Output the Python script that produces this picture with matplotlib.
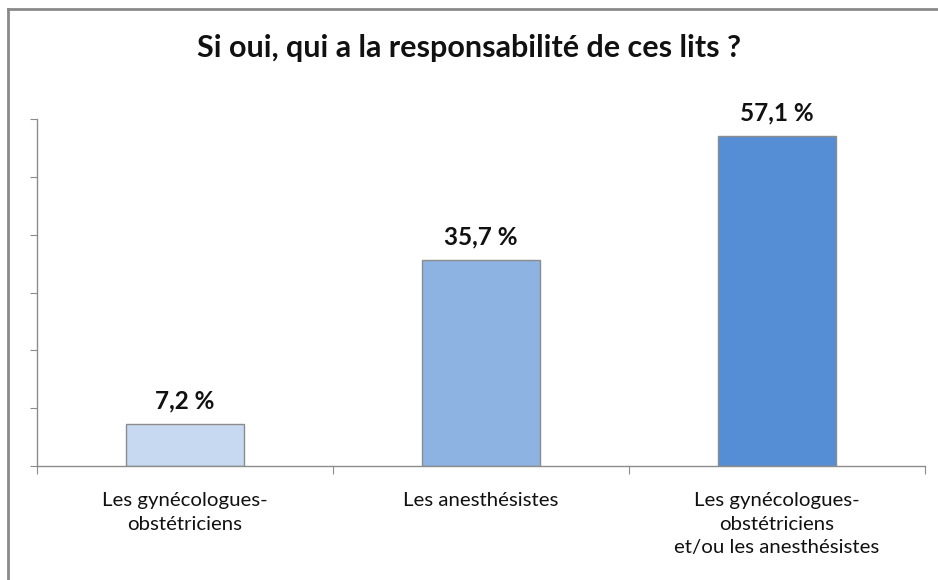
import matplotlib
matplotlib.use("Agg")
import matplotlib.pyplot as plt
from matplotlib.lines import Line2D

categories = ["Les gynécologues-\nobstétriciens", "Les anesthésistes",
              "Les gynécologues-\nobstétriciens\net/ou les anesthésistes"]
values = [7.2, 35.7, 57.1]
value_labels = ["7,2 %", "35,7 %", "57,1 %"]
colors = ["#c6d9f1", "#8db3e2", "#558ed5"]
title = "Si oui, qui a la responsabilité de ces lits ?"

plt.rcParams['font.family'] = ['Lato', 'DejaVu Sans']

W, H = 938, 580
fig = plt.figure(figsize=(W / 100, H / 100), dpi=100)
fig.patch.set_facecolor("white")

# outer frame (left and top visible)
fig.add_artist(Line2D([8 / W, 8 / W], [0, 1 - 9 / H], transform=fig.transFigure,
                      color="#8a8a8a", lw=2))
fig.add_artist(Line2D([8 / W, 1], [1 - 9 / H, 1 - 9 / H], transform=fig.transFigure,
                      color="#8a8a8a", lw=2))

ax_left, ax_right, ax_top, ax_bottom = 37, 925, 119, 466
ax = fig.add_axes([ax_left / W, 1 - ax_bottom / H, (ax_right - ax_left) / W,
                   (ax_bottom - ax_top) / H])

x = range(len(values))
ax.bar(x, values, width=0.4, color=colors, edgecolor="#8c8c8c", linewidth=1, zorder=2)
ax.set_xlim(-0.5, len(values) - 0.5)
ax.set_ylim(0, 60)

for xi, v, lab in zip(x, values, value_labels):
    ax.text(xi, v + 2.0, lab, ha="center", va="bottom", fontsize=17.5,
            fontweight="bold", color="#111111")

for s in ["top", "right"]:
    ax.spines[s].set_visible(False)
for s in ["left", "bottom"]:
    ax.spines[s].set_color("#8c8c8c")
    ax.spines[s].set_linewidth(1)

ax.set_yticks(range(0, 61, 10))
ax.set_yticklabels([])
ax.tick_params(axis="y", length=5, color="#8c8c8c", direction="out")

ax.set_xticks([-0.5, 0.5, 1.5, 2.5], minor=False)
ax.set_xticklabels([])
ax.tick_params(axis="x", which="major", length=6, color="#8c8c8c", direction="out")
ax.set_xticks(list(x), minor=True)
ax.set_xticklabels(categories, minor=True, fontsize=14.7, color="#111111",
                   linespacing=1.45)
ax.tick_params(axis="x", which="minor", length=0, pad=19)

fig.text(0.5, 1 - 48 / H, title, ha="center", va="center", fontsize=22,
         fontweight="bold", color="#111111")

fig.savefig("out.png", dpi=100)
